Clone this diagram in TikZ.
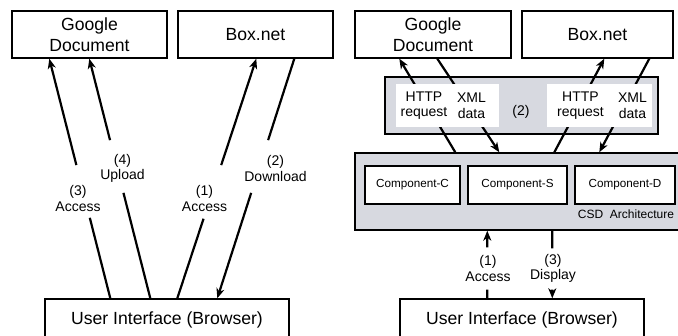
\documentclass[tikz,border=0pt]{standalone}
\usepackage{fontspec}
\setmainfont{Liberation Sans}
\usetikzlibrary{arrows.meta,calc}
\definecolor{csdgray}{RGB}{215,217,224}

\begin{document}
\begin{tikzpicture}[
    x=1pt, y=-1pt,
    box/.style={draw, line width=1.4pt, fill=white, inner sep=0pt, align=center,
                minimum height=47pt, font=\fontsize{17.6}{21.5}\selectfont},
    comp/.style={draw, line width=1.3pt, fill=white, inner sep=0pt, minimum width=#1,
                 minimum height=38pt, font=\fontsize{11.7}{14}\selectfont},
    panel/.style={draw, line width=1.4pt, fill=csdgray, inner sep=0pt},
    patch/.style={fill=white, inner sep=0pt, minimum width=#1, minimum height=43pt},
    lbl/.style={align=center, inner sep=0pt, font=\fontsize{14}{15.7}\selectfont},
    >={Stealth[length=10pt,width=8pt,inset=3pt]},
    route/.style={line width=2.2pt}
  ]
  \useasboundingbox (0,0) rectangle (678,336);
  \clip (0,0) rectangle (678,336);
  % Left side: direct access
  \node[box, minimum width=155pt] (gdL) at (89.5,34.5) {Google\\Document};
  \node[box, minimum width=155pt] (boxL) at (255.5,34.5) {Box.net};
  \node[box, minimum width=244pt, minimum height=41pt] (uiL) at (167,319.5) {User Interface (Browser)};
  % Right side: through CSD
  \node[box, minimum width=156pt] (gdR) at (433,34.5) {Google\\Document};
  \node[box, minimum width=151pt] (boxR) at (597.5,34.5) {Box.net};
  \node[panel, minimum width=273pt, minimum height=57pt] (proxy) at (521.5,105.5) {};
  \node[panel, minimum width=325pt, minimum height=77pt] (csd) at (517.5,191.5) {};
  \node[box, minimum width=244pt, minimum height=41pt] (uiR) at (522,319.5) {User Interface (Browser)};
  % Components
  \foreach \c/\x/\w in {C/412.5/95pt, S/517.5/99pt, D/625/100pt}{
    \node[comp=\w] (comp\c) at (\x,185) {Component-\c};
  }
  \node[inner sep=0pt, font=\fontsize{12}{14}\selectfont] (arch) at (626,214.5) {CSD\ \ Architecture};

  % Link ends
  \coordinate (a3s) at ($(uiL.north west)+(66,0)$);
  \coordinate (a3e) at ($(gdL.south west)+(38,0)$);
  \coordinate (a4s) at ($(uiL.north west)+(106,0)$);
  \coordinate (a4e) at ($(gdL.south west)+(78,0)$);
  \coordinate (a1s) at ($(uiL.north west)+(133,0)$);
  \coordinate (a1e) at ($(boxL.south west)+(79,0)$);
  \coordinate (a2s) at ($(boxL.south west)+(117,0)$);
  \coordinate (a2e) at ($(uiL.north west)+(173,0)$);
  \coordinate (accs) at ($(uiR.north west)+(88,0)$);
  \coordinate (acce) at ($(csd.south west)+(133,0)$);
  \coordinate (diss) at ($(csd.south west)+(198,0)$);
  \coordinate (dise) at ($(uiR.north west)+(153,0)$);

  % Links broken by their labels
  \foreach \s/\e/\p/\q in {a3s/a3e/0.336/0.556, a4s/a4e/0.44/0.66,
                           a1s/a1e/0.332/0.556, a2s/a2e/0.34/0.56,
                           accs/acce/0.13/0.754, diss/dise/0.26/0.87}{
    \draw[route] (\s) -- ($(\s)!\p!(\e)$);
    \draw[route,->] ($(\s)!\q!(\e)$) -- (\e);
  }
  \node[lbl] (l3) at (78,198.5) {(3)\\Access};
  \node[lbl] (l4) at (122.5,168.5) {(4)\\Upload};
  \node[lbl] (l1) at (204.5,198.5) {(1)\\Access};
  \node[lbl] (l2) at (275.5,168.5) {(2)\\Download};
  \node[lbl] (r1) at (488,268.5) {(1)\\Access};
  \node[lbl] (r3) at (553,268.5) {(3)\\Display};

  % Requests and data through the proxy
  \draw[route,->] ($(csd.north west)+(101,0)$) -- ($(gdR.south west)+(45,0)$);
  \draw[route,->] ($(gdR.south west)+(83,0)$) -- ($(csd.north west)+(145,0)$);
  \draw[route,->] ($(csd.north west)+(200,0)$) -- ($(boxR.south west)+(83,0)$);
  \draw[route,->] ($(boxR.south west)+(128,0)$) -- ($(csd.north west)+(245,0)$);
  \node[patch=103pt] (patch1) at (447.5,105.5) {};
  \node[patch=105pt] (patch2) at (599.5,105.5) {};
  \node[lbl] (http1) at (424,105.5) {HTTP\\request};
  \node[lbl] (xml1) at (471.5,105.5) {XML\\data};
  \node[lbl] (http2) at (580.5,105.5) {HTTP\\request};
  \node[lbl] (xml2) at (632.5,105.5) {XML\\data};
  \node[lbl] (step2) at (521,112) {(2)};
\end{tikzpicture}
\end{document}
